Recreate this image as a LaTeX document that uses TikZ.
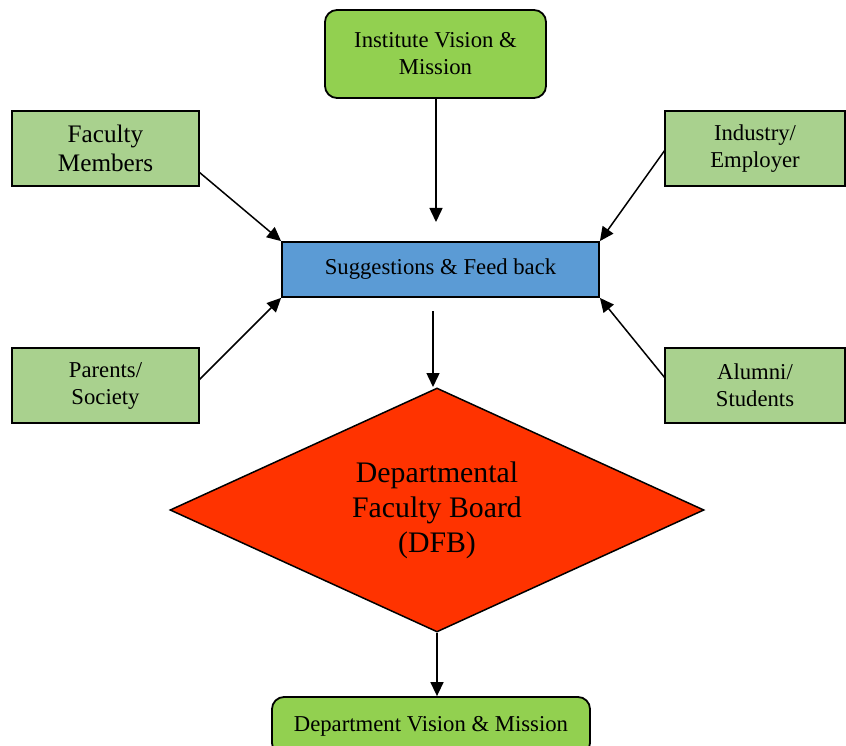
\documentclass[tikz,border=0pt]{standalone}
\usepackage{fontspec}
\setmainfont{Liberation Serif}
\usetikzlibrary{shapes.geometric,arrows.meta}
\definecolor{gA}{HTML}{92D050}
\definecolor{gB}{HTML}{A9D18E}
\definecolor{bA}{HTML}{5B9BD5}
\definecolor{rA}{HTML}{FF3300}
\tikzset{
  box/.style={draw=black, line width=1.8pt, inner sep=0pt, align=center, font=\fontsize{22.7}{27}\selectfont},
  rbox/.style={box, rounded corners=12pt, fill=gA},
  sbox/.style={box, fill=gB},
  arr/.style={draw=black, line width=1.5pt, -{Triangle[length=14pt,width=13pt]}}
}
\begin{document}
\begin{tikzpicture}[x=1pt,y=-1pt]
\useasboundingbox (0,0) rectangle (846,746);
\clip (0,0) rectangle (846,746);
\node[rbox, minimum width=221pt, minimum height=88pt] (inst) at (435.5,54) {Institute Vision \&\\Mission};
\node[sbox, minimum width=187pt, minimum height=75pt, font=\fontsize{25.2}{29}\selectfont] (fac) at (105.5,148.5) {Faculty\\Members};
\node[sbox, minimum width=180pt, minimum height=75pt] (ind) at (755,148.5) {Industry/\\Employer};
\node[box, fill=bA, minimum width=317pt, minimum height=55pt] (sug) at (440.5,269.5) {Suggestions \& Feed back};
\node[sbox, minimum width=187pt, minimum height=75pt] (par) at (105.5,385.5) {Parents/\\Society};
\node[sbox, minimum width=180pt, minimum height=75pt] (alu) at (755,385.5) {Alumni/\\Students};
\node[diamond, draw=black, line width=1.5pt, fill=rA, inner sep=0pt, aspect=2.19, minimum width=534pt, minimum height=244pt, align=center, font=\fontsize{29.8}{35}\selectfont] (dfb) at (437,510) {Departmental\\Faculty Board\\(DFB)};
\node[rbox, minimum width=318pt, minimum height=58pt] (dep) at (431,726) {Department Vision \& Mission};
\coordinate (instend) at (436,222);
\coordinate (sugout) at (433,311);
\coordinate (dfbtop) at (433,387);
\coordinate (facout) at (199,172);
\coordinate (indout) at (665,150);
\coordinate (parout) at (199,380);
\coordinate (aluout) at (665,378);
\draw[arr] (inst.south -| instend) -- (instend);
\draw[arr] (facout) -- (sug.north west);
\draw[arr] (indout) -- (sug.north east);
\draw[arr] (parout) -- (sug.south west);
\draw[arr] (aluout) -- (sug.south east);
\draw[arr] (sugout) -- (dfbtop);
\draw[arr] (dfb.south) -- (dep.north -| 437,0);
\end{tikzpicture}
\end{document}
